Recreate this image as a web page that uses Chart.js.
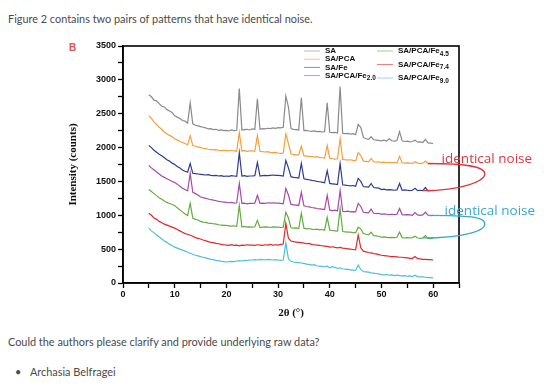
<!DOCTYPE html>
<html>
<head>
<meta charset="utf-8">
<script src="https://cdn.jsdelivr.net/npm/chart.js@4.4.1/dist/chart.umd.min.js"></script>
<style>
  body { margin: 0; background: #fff; width: 544px; height: 390px; position: relative; overflow: hidden;
         font-family: Lato, 'Open Sans', sans-serif; color: #4a4a4a; }
  .txt { position: absolute; left: 8px; font-size: 10.9px; line-height: 14px; white-space: nowrap; }
  #plotWrap { position: absolute; left: 0; top: 30px; }
  #panel { position: absolute; left: 69px; top: 42px; font: bold 10px 'Liberation Sans', Arial, sans-serif; color: #d9534f; }
</style>
</head>
<body>
<div class="txt" style="top:12px">Figure 2 contains two pairs of patterns that have identical noise.</div>
<div id="panel">B</div>
<div id="plotWrap"><canvas id="xrdChart" width="544" height="300"></canvas></div>
<div class="txt" style="top:335px">Could the authors please clarify and provide underlying raw data?</div>
<div class="txt" style="top:365px; left:15px">•</div>
<div class="txt" style="top:365px; left:30px">Archasia Belfragei</div>
<script>
// 2θ positions (degrees)
const twoTheta = [
  5, 5.5, 6, 6.5, 7, 7.5, 8, 8.5, 9, 9.5,
  10, 10.5, 11, 11.5, 12, 12.5, 13, 13.5, 14, 14.5,
  15, 15.5, 16, 16.5, 17, 17.5, 18, 18.5, 19, 19.5,
  20, 20.5, 21, 21.5, 22, 22.5, 23, 23.5, 24, 24.5,
  25, 25.5, 26, 26.5, 27, 27.5, 28, 28.5, 29, 29.5,
  30, 30.5, 31, 31.5, 32, 32.5, 33, 33.5, 34, 34.5,
  35, 35.5, 36, 36.5, 37, 37.5, 38, 38.5, 39, 39.5,
  40, 40.5, 41, 41.5, 42, 42.5, 43, 43.5, 44, 44.5,
  45, 45.5, 46, 46.5, 47, 47.5, 48, 48.5, 49, 49.5,
  50, 50.5, 51, 51.5, 52, 52.5, 53, 53.5, 54, 54.5,
  55, 55.5, 56, 56.5, 57, 57.5, 58, 58.5, 59, 59.5,
  60
];

const seriesNames = ['SA', 'SA/PCA', 'SA/Fe', 'SA/PCA/Fe', 'SA/PCA/Fe', 'SA/PCA/Fe', 'SA/PCA/Fe'];
const seriesSubs = ['', '', '', '2.0', '4.5', '7.4', '9.0'];
const seriesColors = ['#8a8a8a', '#f4a03a', '#2e3d94', '#a64ca6', '#62ad3e', '#e02a2a', '#4cbfe0'];

const saCounts = [
  2780, 2750, 2700, 2690, 2650, 2610, 2600, 2560, 2540, 2520,
  2470, 2450, 2430, 2400, 2390, 2360, 2660, 2350, 2330, 2320,
  2310, 2300, 2290, 2275, 2280, 2265, 2270, 2255, 2260, 2250,
  2255, 2245, 2260, 2250, 2255, 2870, 2260, 2265, 2270, 2260,
  2275, 2270, 2720, 2270, 2280, 2275, 2285, 2280, 2290, 2285,
  2295, 2290, 2300, 2760, 2600, 2280, 2270, 2265, 2260, 2735,
  2250, 2255, 2245, 2240, 2245, 2235, 2240, 2230, 2235, 2660,
  2225, 2220, 2225, 2215, 2900, 2210, 2205, 2210, 2200, 2205,
  2190, 2340, 2300, 2150, 2130, 2120, 2160, 2115, 2110, 2105,
  2100, 2110, 2095, 2130, 2100, 2095, 2105, 2235, 2100, 2090,
  2095, 2085, 2090, 2110, 2080, 2085, 2075, 2120, 2070, 2065,
  2060
];
const saPcaCounts = [
  2470, 2430, 2380, 2340, 2300, 2270, 2230, 2200, 2180, 2160,
  2130, 2110, 2090, 2075, 2060, 2040, 2175, 2030, 2020, 2010,
  2000, 1990, 1985, 1975, 1970, 1965, 1970, 1960, 1955, 1960,
  1955, 1950, 1960, 1950, 1945, 2220, 1950, 1955, 1945, 1950,
  1950, 1945, 2175, 1945, 1940, 1935, 1940, 1930, 1925, 1930,
  1920, 1915, 1920, 2200, 2060, 1905, 1900, 1890, 1895, 2020,
  1880, 1875, 1870, 1865, 1860, 1865, 1855, 1850, 1845, 2030,
  1840, 1835, 1830, 1835, 2130, 1825, 1820, 1815, 1820, 1810,
  1805, 1925, 1880, 1800, 1795, 1790, 1840, 1790, 1785, 1790,
  1780, 1785, 1775, 1780, 1775, 1780, 1770, 1870, 1775, 1770,
  1775, 1770, 1765, 1790, 1770, 1765, 1770, 1800, 1765, 1760,
  1765
];
const saFeCounts = [
  2030, 2000, 1960, 1930, 1900, 1880, 1850, 1820, 1800, 1770,
  1750, 1720, 1700, 1670, 1650, 1635, 1765, 1620, 1615, 1610,
  1605, 1600, 1595, 1600, 1590, 1585, 1590, 1580, 1585, 1575,
  1580, 1575, 1585, 1580, 1575, 1925, 1580, 1585, 1575, 1580,
  1580, 1585, 1780, 1580, 1585, 1590, 1585, 1590, 1595, 1590,
  1590, 1585, 1580, 1810, 1700, 1570, 1560, 1555, 1550, 1765,
  1540, 1530, 1525, 1515, 1510, 1500, 1495, 1490, 1480, 1660,
  1470, 1465, 1460, 1455, 1765, 1450, 1445, 1440, 1435, 1440,
  1430, 1545, 1500, 1425, 1420, 1415, 1470, 1410, 1405, 1400,
  1380, 1385, 1375, 1380, 1375, 1370, 1375, 1470, 1370, 1375,
  1370, 1365, 1370, 1400, 1365, 1370, 1365, 1410, 1360, 1365,
  1365
];
const fe20Counts = [
  1735, 1700, 1670, 1640, 1610, 1580, 1560, 1540, 1520, 1500,
  1485, 1460, 1430, 1400, 1380, 1360, 1620, 1340, 1320, 1300,
  1270, 1260, 1250, 1240, 1230, 1225, 1215, 1205, 1200, 1195,
  1190, 1185, 1190, 1180, 1185, 1470, 1175, 1180, 1170, 1175,
  1175, 1180, 1295, 1175, 1180, 1175, 1185, 1180, 1185, 1180,
  1180, 1175, 1170, 1395, 1300, 1160, 1155, 1150, 1145, 1340,
  1140, 1130, 1125, 1115, 1110, 1100, 1095, 1090, 1085, 1295,
  1075, 1070, 1075, 1065, 1365, 1060, 1055, 1060, 1050, 1055,
  1050, 1175, 1130, 1045, 1040, 1035, 1090, 1030, 1025, 1030,
  1015, 1020, 1015, 1010, 1015, 1010, 1015, 1100, 1010, 1005,
  1010, 1005, 1000, 1040, 1005, 1000, 1005, 1045, 1000, 995,
  1000
];
const fe45Counts = [
  1380, 1350, 1320, 1290, 1260, 1235, 1210, 1190, 1175, 1160,
  1145, 1110, 1080, 1050, 1020, 995, 1175, 960, 940, 930,
  910, 900, 895, 885, 880, 875, 870, 860, 855, 850,
  850, 845, 840, 845, 835, 1145, 830, 835, 825, 830,
  825, 830, 925, 820, 825, 830, 825, 820, 830, 825,
  825, 820, 825, 1045, 960, 815, 810, 815, 805, 1030,
  810, 800, 805, 795, 790, 795, 785, 790, 780, 970,
  780, 775, 770, 765, 1100, 760, 755, 750, 750, 745,
  740, 825, 800, 730, 720, 710, 750, 700, 695, 690,
  675, 680, 675, 670, 675, 670, 675, 750, 670, 665,
  670, 665, 670, 690, 665, 660, 665, 700, 660, 655,
  660
];
const fe74Counts = [
  1030, 1000, 960, 940, 910, 890, 870, 855, 840, 825,
  810, 790, 770, 750, 730, 720, 705, 690, 670, 660,
  650, 635, 625, 610, 600, 595, 585, 580, 570, 565,
  560, 555, 565, 555, 560, 550, 560, 555, 565, 560,
  560, 555, 565, 560, 555, 565, 560, 570, 560, 565,
  560, 570, 575, 880, 660, 620, 610, 605, 600, 595,
  590, 580, 585, 570, 565, 560, 555, 550, 545, 540,
  530, 535, 525, 520, 525, 515, 510, 505, 500, 495,
  490, 705, 520, 470, 460, 450, 445, 435, 430, 420,
  410, 405, 400, 395, 390, 390, 385, 380, 380, 375,
  370, 365, 365, 390, 360, 355, 350, 350, 345, 345,
  340
];
const fe90Counts = [
  810, 770, 740, 710, 680, 650, 620, 600, 570, 550,
  530, 515, 500, 485, 470, 455, 440, 425, 410, 400,
  390, 380, 370, 360, 350, 345, 335, 330, 320, 315,
  310, 315, 320, 315, 325, 330, 325, 335, 330, 340,
  340, 345, 340, 350, 345, 340, 350, 345, 340, 345,
  340, 335, 340, 590, 360, 320, 310, 305, 300, 295,
  290, 280, 275, 265, 270, 255, 250, 245, 240, 250,
  225, 240, 230, 215, 225, 210, 205, 200, 195, 190,
  185, 265, 200, 170, 165, 160, 150, 145, 140, 135,
  125, 120, 125, 115, 120, 110, 115, 110, 105, 110,
  100, 105, 95, 115, 95, 90, 90, 85, 80, 80,
  75
];

const allCounts = [saCounts, saPcaCounts, saFeCounts, fe20Counts, fe45Counts, fe74Counts, fe90Counts];

// box frame round the plot (top + right sides too)
const framePlugin = {
  id: 'frame',
  afterDraw(chart) {
    const { ctx, chartArea: a } = chart;
    ctx.save();
    ctx.strokeStyle = '#000';
    ctx.lineWidth = 1.6;
    ctx.strokeRect(a.left, a.top, a.right - a.left, a.bottom - a.top);
    ctx.restore();
  }
};

// two-column legend inside the plot, with subscripts
const legendBoxPlugin = {
  id: 'legendBox',
  afterDraw(chart, args, opts) {
    const { ctx, chartArea: a } = chart;
    ctx.save();
    ctx.textBaseline = 'middle';
    opts.cols.forEach(col => {
      col.items.forEach((di, row) => {
        const ds = chart.data.datasets[di];
        const y = a.top + col.dy + row * col.step;
        const x = a.left + col.dx;
        ctx.strokeStyle = ds.borderColor;
        ctx.globalAlpha = 0.6;
        ctx.lineWidth = 1;
        ctx.beginPath();
        ctx.moveTo(x, y);
        ctx.lineTo(x + 16, y);
        ctx.stroke();
        ctx.globalAlpha = 1;
        ctx.fillStyle = '#111';
        ctx.font = 'bold 8px "Liberation Sans", Arial, sans-serif';
        ctx.fillText(seriesNames[di], x + 21, y);
        if (seriesSubs[di]) {
          const w = ctx.measureText(seriesNames[di]).width;
          ctx.font = 'bold 6.5px "Liberation Sans", Arial, sans-serif';
          ctx.fillText(seriesSubs[di], x + 21 + w, y + 3);
        }
      });
    });
    ctx.restore();
  }
};

// hairpin callouts marking the pairs with identical noise
const noiseMarksPlugin = {
  id: 'noiseMarks',
  afterDraw(chart, args, opts) {
    const { ctx, scales: { x, y } } = chart;
    const iTop = twoTheta.indexOf(opts.topX);
    const iBot = twoTheta.indexOf(opts.bottomX);
    ctx.save();
    opts.pairs.forEach(p => {
      const x1 = x.getPixelForValue(opts.topX);
      const y1 = y.getPixelForValue(allCounts[p.top][iTop]);
      const x2 = x.getPixelForValue(opts.bottomX);
      const y2 = y.getPixelForValue(allCounts[p.bottom][iBot]);
      const tx = x.getPixelForValue(opts.tipX);
      const ty = y1 + (y2 - y1) * 0.38;
      ctx.strokeStyle = p.color;
      ctx.lineWidth = 1.3;
      ctx.beginPath();
      ctx.moveTo(x1, y1);
      ctx.bezierCurveTo(x1 + 40, y1, tx, ty - 7, tx, ty);
      ctx.bezierCurveTo(tx, ty + 7, x2 + 40, y2, x2, y2);
      ctx.stroke();
      ctx.fillStyle = p.color;
      ctx.font = '13.5px "Open Sans", sans-serif';
      ctx.textAlign = 'center';
      ctx.textBaseline = 'middle';
      ctx.fillText(p.text, tx + 2 + (p.dx || 0), ty - 15 + (p.dy || 0));
    });
    ctx.restore();
  }
};

const tickFont = { family: 'Liberation Sans', weight: 'bold', size: 9 };
const titleFont = { family: 'Liberation Serif', weight: 'bold', size: 11 };

new Chart(document.getElementById('xrdChart').getContext('2d'), {
  type: 'line',
  data: {
    datasets: allCounts.map((counts, i) => ({
      label: seriesNames[i] + seriesSubs[i],
      data: counts.map((v, j) => ({ x: twoTheta[j], y: v })),
      borderColor: seriesColors[i],
      borderWidth: 1.2,
      pointRadius: 0,
      tension: 0,
      fill: false
    }))
  },
  options: {
    responsive: false,
    animation: false,
    layout: { padding: { left: 0, right: 85, top: 16, bottom: 0 } },
    plugins: {
      legend: { display: false },
      tooltip: { enabled: false },
      legendBox: {
        cols: [
          { items: [0, 1, 2, 3], dx: 181, dy: 5, step: 8.2 },
          { items: [4, 5, 6], dx: 254, dy: 5, step: 13.5 }
        ]
      },
      noiseMarks: {
        topX: 59, bottomX: 58, tipX: 70,
        pairs: [
          { top: 1, bottom: 2, color: '#d8383f', text: 'identical noise' },
          { top: 3, bottom: 4, color: '#39a9cb', text: 'identical noise', dx: 3, dy: 2 }
        ]
      }
    },
    scales: {
      x: {
        type: 'linear',
        min: 0,
        max: 65,
        afterFit: s => { s.height = 47; },
        ticks: {
          stepSize: 5, autoSkip: false, maxRotation: 0, padding: 1,
          color: '#111', font: tickFont,
          callback: v => (v % 10 === 0 && v <= 60 ? v : '')
        },
        grid: { drawOnChartArea: false, drawTicks: true, tickLength: 5, tickColor: '#000', tickWidth: 1.3 },
        border: { color: '#000', width: 1.6 },
        title: { display: true, text: '2θ (°)', color: '#111', font: titleFont, padding: { top: 0, bottom: 10.4 } }
      },
      y: {
        min: 0,
        max: 3500,
        afterFit: s => { s.width = 123; },
        ticks: {
          stepSize: 250, autoSkip: false, padding: 2,
          color: '#111', font: tickFont,
          callback: v => (v % 500 === 0 ? v : '')
        },
        grid: { drawOnChartArea: false, drawTicks: true, tickLength: 5, tickColor: '#000', tickWidth: 1.3 },
        border: { color: '#000', width: 1.6 },
        title: { display: true, text: 'Intensity (counts)', color: '#111', font: titleFont, padding: { top: 66.4, bottom: 0 } }
      }
    }
  },
  plugins: [framePlugin, legendBoxPlugin, noiseMarksPlugin]
});
</script>
</body>
</html>
